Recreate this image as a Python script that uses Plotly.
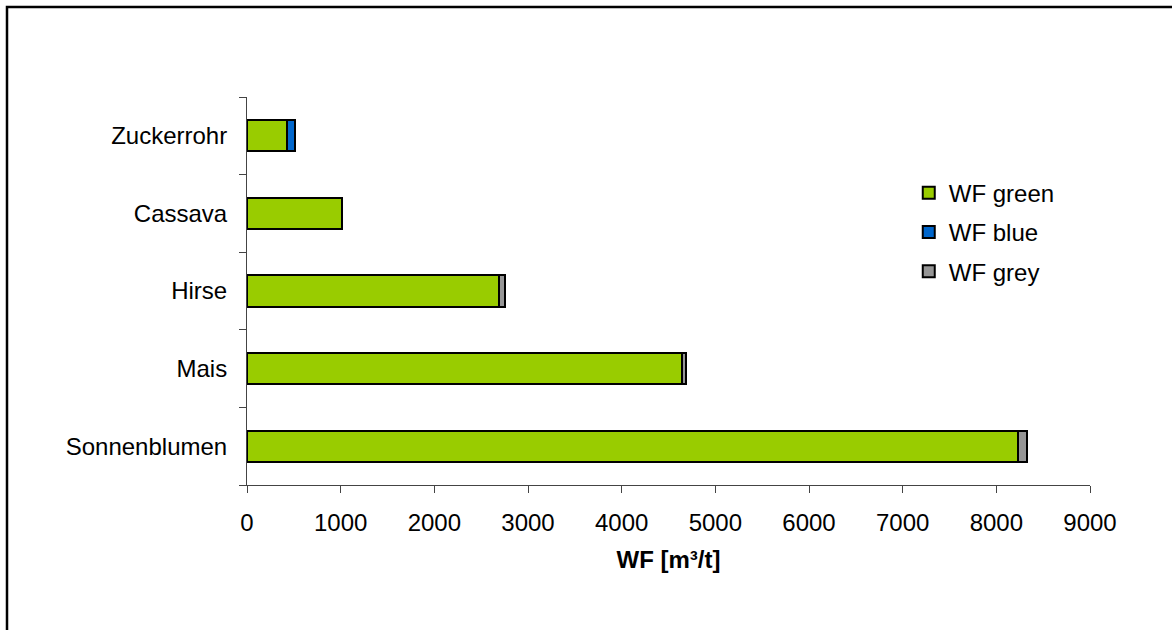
import plotly.graph_objects as go

categories = ["Sonnenblumen", "Mais", "Hirse", "Cassava", "Zuckerrohr"]
wf_green = [8234, 4640, 2689, 1015, 431]
wf_blue = [0, 0, 0, 0, 86]
wf_grey = [93, 43, 64, 0, 0]
series_names = ["WF green", "WF blue", "WF grey"]
series_colors = ["#99CC00", "#0066CC", "#969696"]
x_ticks = [0, 1000, 2000, 3000, 4000, 5000, 6000, 7000, 8000, 9000]

FONT = "Liberation Sans, Arial, sans-serif"
FS = 24

fig = go.Figure()
for i, (name, vals, col) in enumerate(zip(series_names, [wf_green, wf_blue, wf_grey], series_colors)):
    fig.add_trace(go.Bar(
        y=categories, x=vals, name=name, orientation="h",
        marker=dict(color=col, line=dict(color="black", width=2)),
        legendgroup=f"g{i}",
    ))

fig.update_layout(
    width=1172, height=630, autosize=False,
    barmode="stack", bargap=0.6,
    plot_bgcolor="white", paper_bgcolor="white",
    margin=dict(l=247, r=82, t=97, b=145),
    font=dict(family=FONT, size=FS, color="black"),
    legend=dict(
        x=0.785, y=0.81, xanchor="left", yanchor="top",
        traceorder="grouped", tracegroupgap=5,
        font=dict(family=FONT, size=FS, color="black"),
        bgcolor="rgba(0,0,0,0)",
    ),
    xaxis=dict(
        range=[0, 9000], tickvals=x_ticks, ticktext=[str(v) for v in x_ticks],
        showgrid=False, zeroline=False,
        showline=True, linecolor="#444444", linewidth=1,
        ticks="outside", ticklen=7, tickcolor="#444444",
        tickfont=dict(family=FONT, size=FS),
        ticklabelstandoff=9,
        title=dict(text="<b>WF [m³/t]</b>", font=dict(family=FONT, size=FS), standoff=16),
    ),
    yaxis=dict(
        categoryorder="array", categoryarray=categories,
        showgrid=False, zeroline=False,
        showline=True, linecolor="#444444", linewidth=1,
        ticks="outside", ticklen=7, tickcolor="#444444", tickson="boundaries",
        tickfont=dict(family=FONT, size=FS),
        ticklabelstandoff=14,
    ),
    shapes=[dict(
        type="rect", xref="paper", yref="paper",
        x0=(7 - 247) / 843, x1=1.5, y0=-0.6, y1=(485 - 7) / 388,
        line=dict(color="black", width=2.5), fillcolor="rgba(0,0,0,0)", layer="below",
    )],
)

fig.write_html("out.html", config={"displayModeBar": False},
               post_script="document.body.style.margin='0px';document.body.style.padding='0px';")
